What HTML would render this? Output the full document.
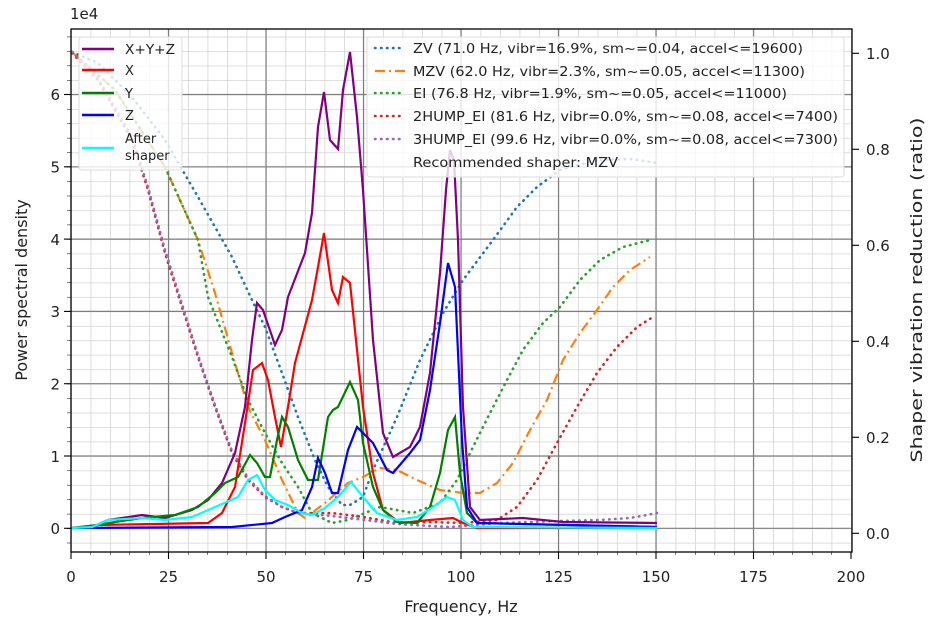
<!DOCTYPE html>
<html><head><meta charset="utf-8"><style>
html,body{margin:0;padding:0;background:#fff;}
svg{display:block;font-family:"DejaVu Sans","Liberation Sans",sans-serif;}
</style></head><body>
<svg width="933" height="626" viewBox="0 0 933 626" xmlns="http://www.w3.org/2000/svg">
<defs>
<pattern id="mg" patternUnits="userSpaceOnUse" x="71" y="528.3" width="19.5" height="14.46">
<line x1="0" y1="0" x2="19.5" y2="0" stroke="#d4d4d4" stroke-width="1.6"/>
<line x1="0" y1="0" x2="0" y2="14.46" stroke="#d4d4d4" stroke-width="1.6"/>
</pattern>
<pattern id="lt" patternUnits="userSpaceOnUse" x="0" y="528.3" width="10" height="14.46">
<line x1="0" y1="0" x2="10" y2="0" stroke="#000" stroke-width="1"/>
</pattern>
<pattern id="bt" patternUnits="userSpaceOnUse" x="71" y="0" width="19.5" height="10">
<line x1="0" y1="0" x2="0" y2="10" stroke="#000" stroke-width="1"/>
</pattern>
<clipPath id="pc"><rect x="71" y="29" width="781" height="523"/></clipPath>
</defs>
<rect x="71" y="29" width="781" height="523" fill="url(#mg)"/>
<g stroke="#7f7f7f" stroke-width="1.2">
<line x1="71" x2="852" y1="528.3" y2="528.3"/><line x1="71" x2="852" y1="456" y2="456"/><line x1="71" x2="852" y1="383.7" y2="383.7"/><line x1="71" x2="852" y1="311.4" y2="311.4"/><line x1="71" x2="852" y1="239.1" y2="239.1"/><line x1="71" x2="852" y1="166.8" y2="166.8"/><line x1="71" x2="852" y1="94.5" y2="94.5"/>
<line y1="29" y2="552" x1="168.5" x2="168.5"/><line y1="29" y2="552" x1="266" x2="266"/><line y1="29" y2="552" x1="363.5" x2="363.5"/><line y1="29" y2="552" x1="461" x2="461"/><line y1="29" y2="552" x1="558.5" x2="558.5"/><line y1="29" y2="552" x1="656" x2="656"/><line y1="29" y2="552" x1="753.5" x2="753.5"/>
</g>
<g clip-path="url(#pc)" fill="none" stroke-width="2.2">
<polyline stroke="#1f77b4" stroke-dasharray="0.5,5.5" stroke-linecap="round" stroke-width="2.6" points="72,52 98,63 132,97 165,140 198,197 232,257 252,300 265,327 282,373 298,417 315,460 328,487 342,505 350,505 363,497 373,470 397,417 420,360 443,313 463,280 493,240 517,207 537,187 560,170 597,160 630,159 657,163"/>
<polyline stroke="#ff7f0e" stroke-dasharray="10,4,2,4" points="72,52 115,90 165,167 198,240 215,293 232,353 248,407 265,440 282,480 298,513 305,518 325,503 348,483 363,477 380,468 397,470 417,480 440,490 463,493 480,493 497,483 513,463 530,430 547,400 563,360 580,333 597,310 613,287 630,270 650,257"/>
<polyline stroke="#2ca02c" stroke-dasharray="0.5,5.5" stroke-linecap="round" stroke-width="2.6" points="72,52 115,90 165,167 198,240 208,297 232,357 248,400 265,433 282,463 298,487 312,513 332,523 348,520 365,513 380,507 413,513 440,503 457,480 473,447 490,413 507,380 523,350 543,323 560,307 580,280 600,260 623,247 650,240"/>
<polyline stroke="#d62728" stroke-dasharray="0.5,5.5" stroke-linecap="round" stroke-width="2.6" points="72,53 98,80 132,140 148,190 165,253 182,307 198,357 215,407 232,453 248,480 265,497 282,507 298,513 332,513 348,515 363,517 397,523 430,522 463,523 497,520 517,507 537,480 557,443 577,407 597,373 617,347 637,327 653,317"/>
<polyline stroke="#9467bd" stroke-dasharray="0.5,5.5" stroke-linecap="round" stroke-width="2.6" points="72,52 98,78 132,137 148,187 165,250 182,304 198,355 215,405 232,451 248,478 265,496 282,507 298,513 332,516 365,520 397,524 430,526 450,527 500,523 560,521 600,520 630,518 647,515 657,513"/>
<polyline stroke="#800080" points="72,528 92,527 108,520 142,515 165,518 192,510 208,500 222,483 235,453 245,407 252,340 257,303 263,310 275,345 282,330 288,297 305,253 312,213 318,127 324,92 330,140 338,149 343,90 350,52 357,117 363,190 373,340 383,433 393,457 410,447 420,427 430,373 440,273 446,190 450,150 454,160 458,240 463,407 470,507 480,520 523,518 563,522 657,523"/>
<polyline stroke="#ff0000" points="72,528 98,525 208,523 222,513 235,487 245,423 253,370 262,363 268,380 275,417 281,447 288,407 295,363 312,300 318,267 324,233 332,290 338,303 343,277 350,283 363,407 373,473 383,510 400,523 430,520 453,518 463,523 477,528 657,528"/>
<polyline stroke="#008000" points="72,528 98,525 115,522 142,518 175,515 198,507 215,493 225,483 238,477 250,455 257,463 265,477 270,477 277,440 282,417 288,427 298,460 308,480 318,480 328,417 333,410 338,407 350,382 358,400 363,443 373,487 383,510 397,522 417,523 430,507 440,473 448,430 455,417 460,473 467,513 477,523 657,527"/>
<polyline stroke="#0000ff" points="72,528 232,527 272,523 285,517 302,510 312,487 318,458 325,473 332,493 338,493 348,450 357,427 373,443 387,470 393,473 410,453 420,440 430,390 440,323 448,263 455,287 462,440 467,507 477,523 657,527"/>
<polyline stroke="#00ffff" points="72,528 92,527 108,520 142,518 165,520 192,517 215,507 238,497 248,480 257,475 265,490 275,500 288,505 302,513 312,515 325,508 338,497 351,482 363,497 377,513 397,520 417,517 433,507 447,497 455,500 463,520 473,527 657,528"/>
</g>
<rect x="71" y="29" width="781" height="523" fill="none" stroke="#000" stroke-width="1.3"/>
<rect x="67" y="29" width="4" height="523" fill="url(#lt)"/>
<rect x="71" y="552" width="781" height="3" fill="url(#bt)"/>
<g stroke="#000" stroke-width="1.1">
<line x1="64" x2="71" y1="528.3" y2="528.3"/><line x1="64" x2="71" y1="456" y2="456"/><line x1="64" x2="71" y1="383.7" y2="383.7"/><line x1="64" x2="71" y1="311.4" y2="311.4"/><line x1="64" x2="71" y1="239.1" y2="239.1"/><line x1="64" x2="71" y1="166.8" y2="166.8"/><line x1="64" x2="71" y1="94.5" y2="94.5"/>
<line y1="552" y2="559" x1="71" x2="71"/><line y1="552" y2="559" x1="168.5" x2="168.5"/><line y1="552" y2="559" x1="266" x2="266"/><line y1="552" y2="559" x1="363.5" x2="363.5"/><line y1="552" y2="559" x1="461" x2="461"/><line y1="552" y2="559" x1="558.5" x2="558.5"/><line y1="552" y2="559" x1="656" x2="656"/><line y1="552" y2="559" x1="753.5" x2="753.5"/><line y1="552" y2="559" x1="851" x2="851"/>
<line x1="852" x2="859" y1="533.3" y2="533.3"/><line x1="852" x2="859" y1="437.3" y2="437.3"/><line x1="852" x2="859" y1="341.3" y2="341.3"/><line x1="852" x2="859" y1="245.3" y2="245.3"/><line x1="852" x2="859" y1="149.3" y2="149.3"/><line x1="852" x2="859" y1="53.3" y2="53.3"/>
</g>
<g font-size="15" fill="#222">
<g text-anchor="end">
<text x="60" y="534">0</text><text x="60" y="462">1</text><text x="60" y="389.5">2</text><text x="60" y="317">3</text><text x="60" y="245">4</text><text x="60" y="172.5">5</text><text x="60" y="100">6</text>
</g>
<text x="70" y="19">1e4</text>
<g text-anchor="middle">
<text x="71" y="582">0</text><text x="168.5" y="582">25</text><text x="266" y="582">50</text><text x="363.5" y="582">75</text><text x="461" y="582">100</text><text x="558.5" y="582">125</text><text x="656" y="582">150</text><text x="753.5" y="582">175</text><text x="851" y="582">200</text>
</g>
<g>
<text x="866" y="539">0.0</text><text x="866" y="443">0.2</text><text x="866" y="347">0.4</text><text x="866" y="251">0.6</text><text x="866" y="155">0.8</text><text x="866" y="59">1.0</text>
</g>
<text x="461" y="612" text-anchor="middle" font-size="16">Frequency, Hz</text>
<text transform="translate(27,290) rotate(-90)" text-anchor="middle" font-size="16">Power spectral density</text>
<text transform="translate(922,290) rotate(-90)" text-anchor="middle" font-size="16" textLength="345" lengthAdjust="spacingAndGlyphs">Shaper vibration reduction (ratio)</text>
</g>
<rect x="79" y="37" width="103" height="133" rx="3" fill="#fff" fill-opacity="0.8" stroke="#ddd"/>
<g stroke-width="2.4">
<line x1="82" x2="114" y1="49" y2="49" stroke="#800080"/>
<line x1="82" x2="114" y1="70" y2="70" stroke="#ff0000"/>
<line x1="82" x2="114" y1="93" y2="93" stroke="#008000"/>
<line x1="82" x2="114" y1="115" y2="115" stroke="#0000ff"/>
<line x1="82" x2="114" y1="148" y2="148" stroke="#00ffff"/>
</g>
<g font-size="13" fill="#222">
<text x="125" y="54" textLength="50" lengthAdjust="spacingAndGlyphs">X+Y+Z</text>
<text x="125" y="75">X</text><text x="125" y="98">Y</text><text x="125" y="120">Z</text>
<text x="125" y="143">After</text><text x="125" y="160">shaper</text>
</g>
<rect x="367" y="37" width="477" height="140" rx="3" fill="#fff" fill-opacity="0.8" stroke="#ddd"/>
<g stroke-width="2.6" fill="none">
<line x1="375" x2="405" y1="48" y2="48" stroke="#1f77b4" stroke-dasharray="0.5,5.5" stroke-linecap="round"/>
<line x1="375" x2="405" y1="71" y2="71" stroke="#ff7f0e" stroke-dasharray="10,4,2,4" stroke-width="2.2"/>
<line x1="375" x2="405" y1="93" y2="93" stroke="#2ca02c" stroke-dasharray="0.5,5.5" stroke-linecap="round"/>
<line x1="375" x2="405" y1="116" y2="116" stroke="#d62728" stroke-dasharray="0.5,5.5" stroke-linecap="round"/>
<line x1="375" x2="405" y1="139" y2="139" stroke="#9467bd" stroke-dasharray="0.5,5.5" stroke-linecap="round"/>
</g>
<g font-size="13" fill="#222">
<text x="413" y="53" textLength="390" lengthAdjust="spacingAndGlyphs">ZV (71.0 Hz, vibr=16.9%, sm~=0.04, accel&lt;=19600)</text>
<text x="413" y="76" textLength="392" lengthAdjust="spacingAndGlyphs">MZV (62.0 Hz, vibr=2.3%, sm~=0.05, accel&lt;=11300)</text>
<text x="413" y="98" textLength="374" lengthAdjust="spacingAndGlyphs">EI (76.8 Hz, vibr=1.9%, sm~=0.05, accel&lt;=11000)</text>
<text x="413" y="121" textLength="425" lengthAdjust="spacingAndGlyphs">2HUMP_EI (81.6 Hz, vibr=0.0%, sm~=0.08, accel&lt;=7400)</text>
<text x="413" y="144" textLength="425" lengthAdjust="spacingAndGlyphs">3HUMP_EI (99.6 Hz, vibr=0.0%, sm~=0.08, accel&lt;=7300)</text>
<text x="413" y="167" textLength="205" lengthAdjust="spacingAndGlyphs">Recommended shaper: MZV</text>
</g>
</svg>
</body></html>
